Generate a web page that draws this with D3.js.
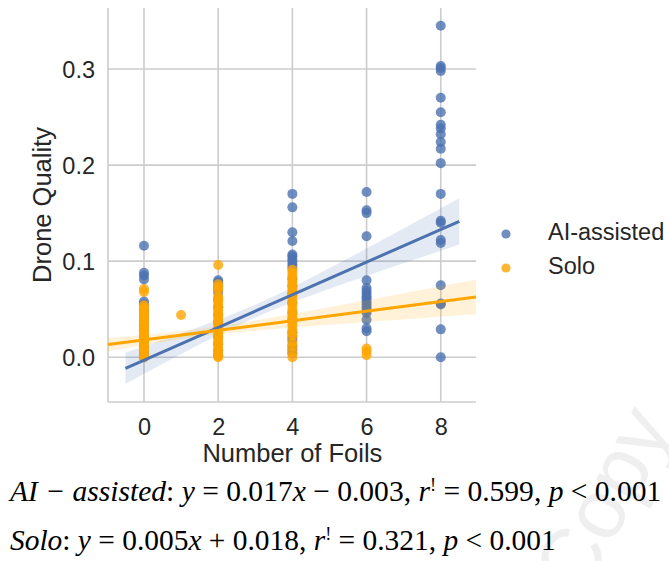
<!DOCTYPE html>
<html>
<head>
<meta charset="utf-8">
<script src="https://cdn.jsdelivr.net/npm/d3@7"></script>
<style>
  html, body { margin: 0; padding: 0; background: #ffffff; }
  svg { display: block; }
</style>
</head>
<body>
<svg id="chart" width="669" height="561"></svg>
<script>
// ---- data -------------------------------------------------------------
const seriesNames = ["AI-assisted", "Solo"];
const seriesColors = ["#4c72b0", "#ffa500"];

// AI-assisted drone quality, grouped by number of foils
const aiFoils = [0, 2, 4, 6, 8];
const aiQuality = [
  [0.116, 0.088, 0.085, 0.081, 0.058, 0.055, 0.049, 0.044, 0.039, 0.033, 0.028, 0.022, 0.017, 0.011, 0.006, 0.002, 0.0],
  [0.080, 0.078, 0.074, 0.071, 0.067, 0.060, 0.052, 0.044, 0.037, 0.029, 0.021, 0.014, 0.007, 0.002],
  [0.170, 0.156, 0.130, 0.121, 0.107, 0.105, 0.102, 0.099, 0.096, 0.093, 0.082, 0.074, 0.066, 0.057, 0.046, 0.039, 0.026, 0.021, 0.018, 0.012, 0.008, 0.004],
  [0.172, 0.153, 0.150, 0.126, 0.080, 0.072, 0.069, 0.066, 0.063, 0.061, 0.058, 0.055, 0.052, 0.049, 0.046, 0.039, 0.030, 0.027],
  [0.345, 0.303, 0.301, 0.298, 0.270, 0.255, 0.242, 0.238, 0.232, 0.224, 0.217, 0.202, 0.170, 0.142, 0.140, 0.122, 0.119, 0.075, 0.056, 0.055, 0.029, 0.0]
];

// Solo drone quality, grouped by number of foils
const soloFoils = [0, 1, 2, 4, 6];
const soloQuality = [
  [0.071, 0.068, 0.054, 0.052, 0.050, 0.047, 0.045, 0.043, 0.041, 0.038, 0.036, 0.034, 0.031, 0.029, 0.027, 0.024, 0.022, 0.020, 0.017, 0.015, 0.013, 0.010, 0.008, 0.006, 0.003, 0.001, 0.0],
  [0.044],
  [0.096, 0.076, 0.073, 0.070, 0.063, 0.061, 0.058, 0.055, 0.052, 0.049, 0.046, 0.043, 0.040, 0.037, 0.034, 0.031, 0.028, 0.025, 0.022, 0.019, 0.016, 0.013, 0.010, 0.007, 0.004, 0.001, 0.0],
  [0.091, 0.088, 0.085, 0.081, 0.078, 0.075, 0.071, 0.068, 0.064, 0.061, 0.057, 0.054, 0.050, 0.047, 0.043, 0.040, 0.036, 0.033, 0.029, 0.025, 0.022, 0.015, 0.011, 0.005, 0.0],
  [0.009, 0.006, 0.002]
];

// Fitted regressions (slope, intercept) and their confidence bands
const fitSlopes = [0.017, 0.005];
const fitIntercepts = [-0.003, 0.018];
const fitR2 = ["0.599", "0.321"];
const fitStart = [-0.5, -0.97];
const fitEnd = [8.5, 8.95];
const bandCenter = [3.0, 1.5];
const bandMin = [0.0067, 0.004];
const bandSpread = [0.0042, 0.00236];

// Axes
const xDomain = [-0.97, 8.95];
const yDomain = [-0.0466, 0.3635];
const xTicks = [0, 2, 4, 6, 8];
const yTicks = [0.0, 0.1, 0.2, 0.3];
const xTitle = "Number of Foils";
const yTitle = "Drone Quality";

// ---- layout -----------------------------------------------------------
const svg = d3.select("#chart");
const plot = { left: 108, right: 476, top: 8, bottom: 402 };
const textColor = "#262626";
const gridColor = "#cccccc";
const sansFont = "'Liberation Sans', Arial, sans-serif";
const serifFont = "'Liberation Serif', 'DejaVu Serif', serif";

const x = d3.scaleLinear().domain(xDomain).range([plot.left, plot.right]);
const y = d3.scaleLinear().domain(yDomain).range([plot.bottom, plot.top]);

// faint watermark behind everything
svg.append("text")
  .attr("transform", "translate(582,600) rotate(-62)")
  .attr("font-family", sansFont)
  .attr("font-size", 84)
  .attr("fill", "#efefef")
  .text("Copy");

// grid
const g = svg.append("g");
g.append("g").selectAll("line").data(xTicks).join("line")
  .attr("x1", d => x(d)).attr("x2", d => x(d))
  .attr("y1", plot.top).attr("y2", plot.bottom)
  .attr("stroke", gridColor).attr("stroke-width", 1.6);
g.append("g").selectAll("line").data(yTicks).join("line")
  .attr("x1", plot.left).attr("x2", plot.right)
  .attr("y1", d => y(d)).attr("y2", d => y(d))
  .attr("stroke", gridColor).attr("stroke-width", 1.6);

// left and bottom spines
g.append("line").attr("x1", plot.left).attr("x2", plot.left)
  .attr("y1", plot.top).attr("y2", plot.bottom)
  .attr("stroke", gridColor).attr("stroke-width", 1.6);
g.append("line").attr("x1", plot.left).attr("x2", plot.right)
  .attr("y1", plot.bottom).attr("y2", plot.bottom)
  .attr("stroke", gridColor).attr("stroke-width", 1.6);

// axes via d3-axis, styled as plain labels
const xAxis = svg.append("g")
  .attr("transform", `translate(0,${plot.bottom})`)
  .call(d3.axisBottom(x).tickValues(xTicks).tickFormat(d3.format("d")).tickSize(0).tickPadding(16));
const yAxis = svg.append("g")
  .attr("transform", `translate(${plot.left},0)`)
  .call(d3.axisLeft(y).tickValues(yTicks).tickFormat(d3.format(".1f")).tickSize(0).tickPadding(13));
[xAxis, yAxis].forEach(a => {
  a.select(".domain").remove();
  a.selectAll("text")
    .attr("font-family", sansFont)
    .attr("font-size", 23.5)
    .attr("fill", textColor);
});
yAxis.selectAll("text").attr("dy", "0.36em");

svg.append("text")
  .attr("x", x(4)).attr("y", 462)
  .attr("text-anchor", "middle")
  .attr("font-family", sansFont).attr("font-size", 25.5)
  .attr("fill", textColor)
  .text(xTitle);
svg.append("text")
  .attr("transform", `translate(51,${(plot.top + plot.bottom) / 2}) rotate(-90)`)
  .attr("text-anchor", "middle")
  .attr("font-family", sansFont).attr("font-size", 25.5)
  .attr("fill", textColor)
  .text(yTitle);

// ---- marks ------------------------------------------------------------
svg.append("clipPath").attr("id", "plot-clip")
  .append("rect")
  .attr("x", plot.left).attr("y", plot.top)
  .attr("width", plot.right - plot.left).attr("height", plot.bottom - plot.top);

const marks = svg.append("g").attr("clip-path", "url(#plot-clip)");
const lineLayer = [];

const seriesData = [
  aiFoils.flatMap((f, i) => aiQuality[i].map(v => ({ foils: f, quality: v }))),
  soloFoils.flatMap((f, i) => soloQuality[i].map(v => ({ foils: f, quality: v })))
];

seriesData.forEach((pts, s) => {
  // scatter
  marks.append("g").selectAll("circle").data(pts).join("circle")
    .attr("cx", d => x(d.foils))
    .attr("cy", d => y(d.quality))
    .attr("r", 5)
    .attr("fill", seriesColors[s])
    .attr("fill-opacity", 0.8);

  // confidence band around the fit
  const fit = xv => fitSlopes[s] * xv + fitIntercepts[s];
  const half = xv => Math.sqrt(bandMin[s] ** 2 + (bandSpread[s] * (xv - bandCenter[s])) ** 2);
  const xs = d3.range(0, 101).map(i => fitStart[s] + (fitEnd[s] - fitStart[s]) * i / 100);
  marks.append("path")
    .datum(xs)
    .attr("d", d3.area()
      .x(xv => x(xv))
      .y0(xv => y(fit(xv) - half(xv)))
      .y1(xv => y(fit(xv) + half(xv))))
    .attr("fill", seriesColors[s])
    .attr("fill-opacity", 0.15);

  lineLayer.push({ s, fit });
});

// regression lines sit above the scatter layers
lineLayer.forEach(({ s, fit }) => {
  marks.append("line")
    .attr("x1", x(fitStart[s])).attr("y1", y(fit(fitStart[s])))
    .attr("x2", x(fitEnd[s])).attr("y2", y(fit(fitEnd[s])))
    .attr("stroke", seriesColors[s])
    .attr("stroke-width", 3);
});

// ---- legend -----------------------------------------------------------
const legend = svg.append("g");
seriesNames.forEach((name, i) => {
  const cy = 234 + i * 34;
  legend.append("circle")
    .attr("cx", 506).attr("cy", cy).attr("r", 4.6)
    .attr("fill", seriesColors[i]).attr("fill-opacity", 0.8);
  legend.append("text")
    .attr("x", 548).attr("y", cy + 6)
    .attr("font-family", sansFont).attr("font-size", 23.5)
    .attr("fill", textColor)
    .text(name);
});

// ---- regression equations ----------------------------------------------
const eqLabels = ["AI − assisted", "Solo"];
const eqBaselines = [501, 550];
const eqWidths = [654, 546];
const baseSize = 24;
eqLabels.forEach((label, i) => {
  const t = svg.append("text")
    .attr("x", 10).attr("y", eqBaselines[i])
    .attr("font-family", serifFont).attr("font-size", baseSize)
    .attr("fill", "#000000");
  const slope = fitSlopes[i].toFixed(3);
  const icpt = fitIntercepts[i];
  const sign = icpt < 0 ? " − " : " + ";
  const parts = [
    [label, true], [": ", false], ["y", true], [" = " + slope, false], ["x", true],
    [sign + Math.abs(icpt).toFixed(3) + ", ", false], ["r", true]
  ];
  parts.forEach(([txt, it]) => t.append("tspan").attr("font-style", it ? "italic" : "normal").text(txt));
  t.append("tspan").attr("font-size", "0.62em").attr("baseline-shift", "super").text("!");
  t.append("tspan").text("  = " + fitR2[i] + ", ");
  t.append("tspan").attr("font-style", "italic").text("p");
  t.append("tspan").text(" < 0.001");
  // size the line so it spans the same width as the typeset equation
  const w = t.node().getBBox().width;
  t.attr("font-size", baseSize * eqWidths[i] / w);
});
</script>
</body>
</html>
